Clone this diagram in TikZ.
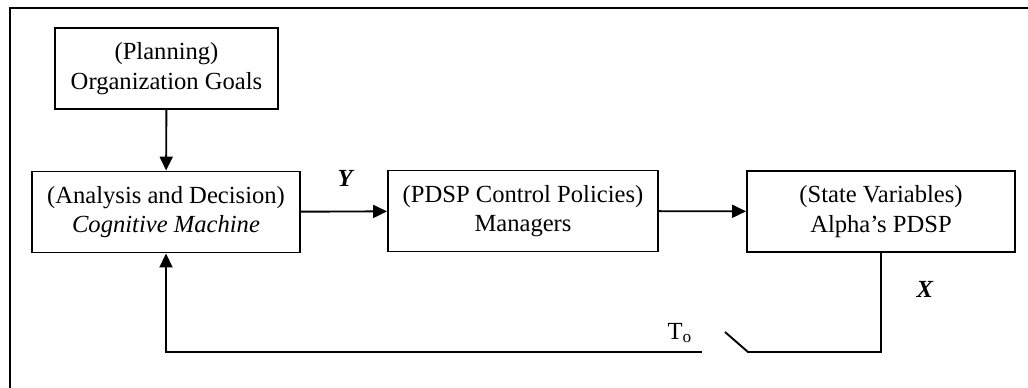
\documentclass[tikz,border=0pt]{standalone}
\usepackage{fontspec}
\setmainfont{Liberation Serif}
\usetikzlibrary{arrows.meta}
\begin{document}
\begin{tikzpicture}[x=0.5pt,y=-0.5pt,
  blk/.style={draw,line width=0.95pt,align=center,inner sep=0pt,
    minimum height=40.5pt,font=\fontsize{12.3}{14.8}\selectfont},
  conn/.style={line width=0.95pt},
  arr/.style={conn,-{Triangle[length=7pt,width=6.5pt]}},
  lbl/.style={font=\fontsize{12.3}{14.8}\selectfont}]
\useasboundingbox (0,0) rectangle (1028,387);
\draw[line width=1pt] (10,400) -- (10,8) -- (1040,8);
\node[blk,minimum width=111.5pt] (plan) at (166.5,68.5) {(Planning)\\Organization Goals};
\node[blk,minimum width=134pt] (anal) at (166,212) {(Analysis and Decision)\\\textit{Cognitive Machine}};
\node[blk,minimum width=135pt] (pdsp) at (523,211) {(PDSP Control Policies)\\Managers};
\node[blk,minimum width=134pt] (state) at (881,211.5) {(State Variables)\\Alpha’s PDSP};
\draw[arr] (plan) -- (anal);
\draw[arr] (anal) -- (pdsp);
\draw[arr] (pdsp) -- (state);
\node[lbl] (ylbl) at (346,178) {\textbf{\textit{Y}}};
\node[lbl] (xlbl) at (925,289) {\textbf{\textit{X}}};
\node[lbl] (tlbl) at (680,333) {T\textsubscript{o}};
\coordinate (sw1) at (702,352);
\coordinate (sw2) at (725,332);
\coordinate (sw3) at (748,352);
\draw[conn] (state.south) |- (sw3) -- (sw2);
\draw[arr] (sw1) -| (anal.south);
\end{tikzpicture}
\end{document}
